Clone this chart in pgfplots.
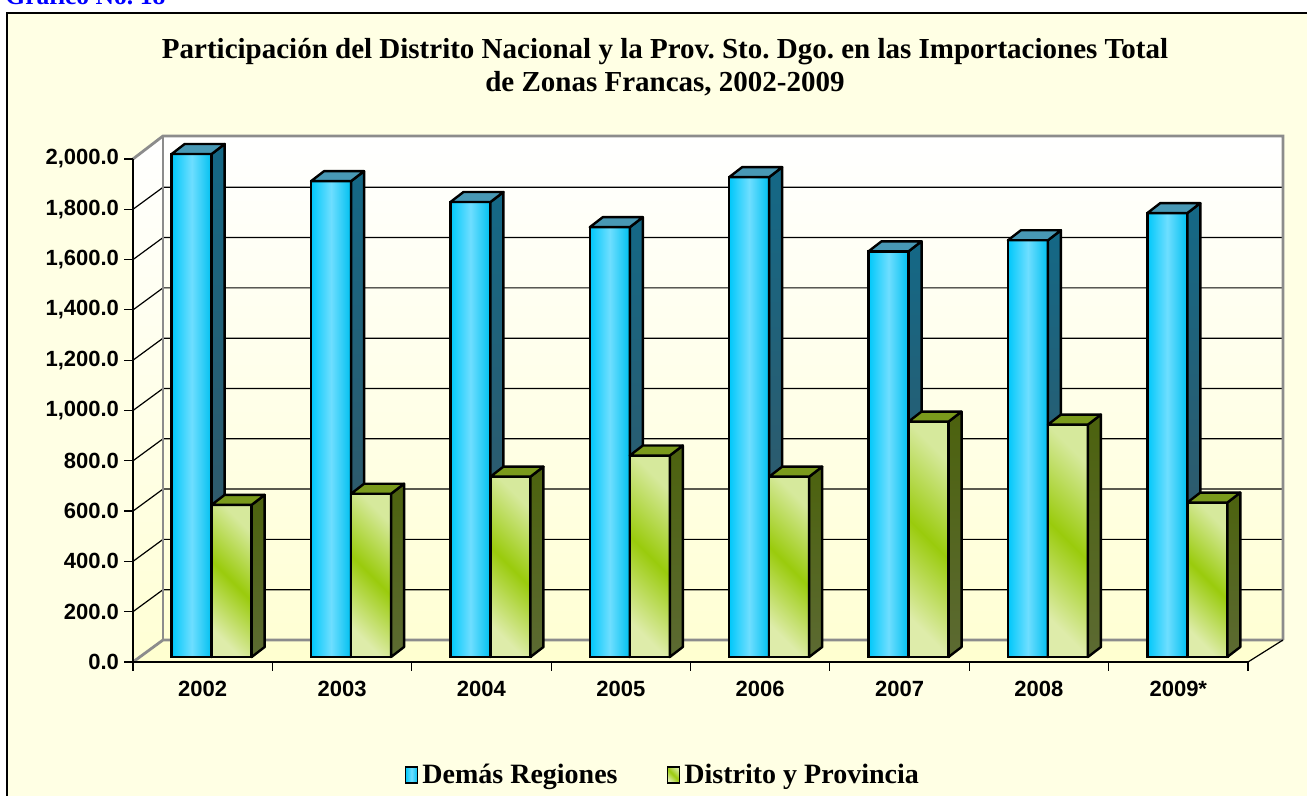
\documentclass[border=0pt]{standalone}
\usepackage{pgfplots}
\pgfplotsset{compat=1.18}
\usepackage{pgfplotstable}
\usepackage{fontspec}
\setmainfont{Liberation Serif}
\newfontfamily\arialf{Liberation Sans}
\frenchspacing
\definecolor{bgY}{RGB}{255,255,228}
\definecolor{floorY}{RGB}{255,255,208}
\definecolor{wallTop}{RGB}{255,255,255}
\definecolor{wallBot}{RGB}{255,255,212}
\definecolor{edgeGray}{RGB}{140,140,140}
\definecolor{bluL}{RGB}{0,200,250}
\definecolor{bluM}{RGB}{110,222,255}
\definecolor{bluR}{RGB}{0,192,240}
\definecolor{bluSideT}{RGB}{20,104,134}
\definecolor{bluSideB}{RGB}{58,84,96}
\definecolor{bluTop}{RGB}{72,152,180}
\definecolor{grnL}{RGB}{222,236,170}
\definecolor{grnM}{RGB}{154,203,12}
\definecolor{grnR}{RGB}{214,233,156}
\definecolor{grnSideT}{RGB}{76,98,14}
\definecolor{grnSideB}{RGB}{92,106,50}
\definecolor{grnTop}{RGB}{122,154,28}
\definecolor{titleBlue}{RGB}{0,0,255}

\pgfplotstableread{
x y
0 2000
1 1892
2 1809
3 1709
4 1908
5 1613
6 1657
7 1765
}\demas
\pgfplotstableread{
x y
0 605
1 649
2 717
3 801
4 717
5 936
6 924
7 614
}\distrito

\pgfdeclareplotmark{blank}{}

\begin{document}
\begin{tikzpicture}[x=0.5pt,y=0.5pt]
\useasboundingbox (0,0) rectangle (1307,796);
\fill[white] (0,0) rectangle (1307,796);
\fill[bgY] (7,-5) rectangle (1312,783);
\draw[black,line width=1pt] (7,-5) -- (7,783) -- (1312,783);
\node[anchor=base west, font=\bfseries\fontsize{12.8}{14}\selectfont, text=titleBlue, inner sep=0pt] at (5,791) {Gráfico No. 18};
\node[align=center, font=\bfseries\fontsize{14.5}{16.5}\selectfont, inner sep=0pt] at (665,729)
  {Participación del Distrito Nacional y la Prov. Sto. Dgo. en las Importaciones Total\\de Zonas Francas, 2002-2009};
% walls and floor
\fill[floorY] (133,134) -- (1248,134) -- (1283,156) -- (163,156) -- cycle;
\shade[top color=wallTop, bottom color=wallBot] (163,156) rectangle (1283,660);
\shade[top color=wallTop, bottom color=wallBot] (133,134) -- (163,156) -- (163,660) -- (133,637) -- cycle;
\foreach \v in {200,400,...,1800} {
  \draw[black, line width=0.6pt] (133,{134+\v*0.2515}) -- (163,{156+\v*0.2515}) -- (1283,{156+\v*0.2515});
}
\draw[edgeGray, line width=1.4pt] (133,134) -- (163,156) -- (1283,156);
\draw[edgeGray, line width=1.4pt] (163,156) -- (163,660);
\draw[edgeGray, line width=1.4pt] (133,637) -- (163,660) -- (1283,660) -- (1283,156);
\draw[black, line width=0.6pt] (1248,134) -- (1283,156);

\begin{axis}[
  at={(66.5pt,67pt)}, anchor=south west,
  scale only axis, width=557.5pt, height=251.5pt,
  xmin=-0.5, xmax=7.5, ymin=0, ymax=2000,
  axis x line*=bottom, axis y line*=left,
  axis line style={black, line width=0.6pt},
  clip=false,
  tick align=outside,
  xtick={0,...,7},
  xticklabels={2002,2003,2004,2005,2006,2007,2008,2009*},
  xticklabel style={yshift=-1.5pt},
  major x tick style={draw=none},
  minor xtick={-0.5,0.5,...,7.5},
  minor tick length=4.5pt,
  major tick length=4.5pt,
  ytick={0,200,...,2000},
  scaled y ticks=false,
  tick style={black, line width=0.6pt},
  ticklabel style={font=\arialf\bfseries\fontsize{11}{13}\selectfont},
  /pgf/number format/assume math mode=true,
  yticklabel style={/pgf/number format/.cd, fixed, fixed zerofill, precision=1, 1000 sep={,}, assume math mode=true, /tikz/.cd, xshift=1pt},
  legend style={at={(0.476,-0.2247)}, anchor=center, draw=none, fill=none,
    font=\bfseries\fontsize{14}{16}\selectfont,
    /tikz/every even column/.append style={column sep=22.5pt}},
  legend columns=2,
  legend image code/.code={\draw[line width=0.9pt, #1] (0pt,-4pt) rectangle (6pt,4pt);},
]
\addlegendimage{draw=black, left color=bluL, right color=bluR, middle color=bluM}
\addlegendentry{Demás Regiones}
\addlegendimage{draw=black, left color=grnL, right color=grnR, middle color=grnM, shading angle=135}
\addlegendentry{Distrito y Provincia}

% Demas Regiones
\addplot[ybar, bar width=20pt, bar shift=-5.5pt, yshift=2.5pt, draw=black, line width=1.2pt, fill=bluL, forget plot]
  table[x=x,y=y]{\demas};
\addplot[scatter, only marks, mark=blank, forget plot, yshift=2.5pt,
  visualization depends on={\thisrow{y} \as \hv},
  scatter/@pre marker code/.code={%
    \pgfmathsetmacro\hh{\hv*0.12575}%
    \shade[left color=bluL, right color=bluR, middle color=bluM] (-15.5pt,0pt) rectangle (4.5pt,{-\hh pt});
    \draw[black, line width=1.2pt] (-15.5pt,0pt) rectangle (4.5pt,{-\hh pt});
    \shade[top color=bluSideT, bottom color=bluSideB]
      (4.5pt,0pt) -- (11pt,5pt) -- (11pt,{5-\hh pt}) -- (4.5pt,{-\hh pt}) -- cycle;
    \draw[black, line width=1.2pt, line join=round]
      (4.5pt,0pt) -- (11pt,5pt) -- (11pt,{5-\hh pt}) -- (4.5pt,{-\hh pt}) -- cycle;
    \filldraw[fill=bluTop, draw=black, line width=1.2pt, line join=round]
      (-15.5pt,0pt) -- (4.5pt,0pt) -- (11pt,5pt) -- (-9pt,5pt) -- cycle;
  },
  scatter/@post marker code/.code={}]
  table[x=x,y=y]{\demas};

% Distrito y Provincia
\addplot[ybar, bar width=20pt, bar shift=14.5pt, yshift=2.5pt, draw=black, line width=1.2pt, fill=grnM, forget plot]
  table[x=x,y=y]{\distrito};
\addplot[scatter, only marks, mark=blank, forget plot, yshift=2.5pt,
  visualization depends on={\thisrow{y} \as \hv},
  scatter/@pre marker code/.code={%
    \pgfmathsetmacro\hh{\hv*0.12575}%
    \shade[left color=grnL, right color=grnR, middle color=grnM, shading angle=135] (4.5pt,0pt) rectangle (24.5pt,{-\hh pt});
    \draw[black, line width=1.2pt] (4.5pt,0pt) rectangle (24.5pt,{-\hh pt});
    \shade[top color=grnSideT, bottom color=grnSideB]
      (24.5pt,0pt) -- (31pt,5pt) -- (31pt,{5-\hh pt}) -- (24.5pt,{-\hh pt}) -- cycle;
    \draw[black, line width=1.2pt, line join=round]
      (24.5pt,0pt) -- (31pt,5pt) -- (31pt,{5-\hh pt}) -- (24.5pt,{-\hh pt}) -- cycle;
    \filldraw[fill=grnTop, draw=black, line width=1.2pt, line join=round]
      (4.5pt,0pt) -- (24.5pt,0pt) -- (31pt,5pt) -- (11pt,5pt) -- cycle;
  },
  scatter/@post marker code/.code={}]
  table[x=x,y=y]{\distrito};
\end{axis}
\end{tikzpicture}
\end{document}
